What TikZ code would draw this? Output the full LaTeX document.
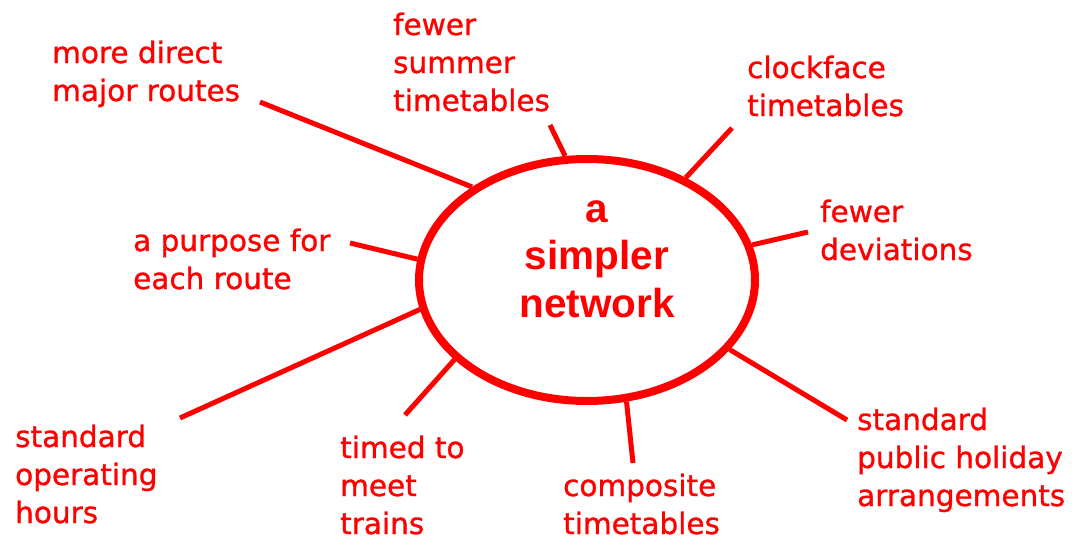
\documentclass[tikz,border=0pt]{standalone}
\usepackage{fontspec}
\setmainfont{DejaVu Sans}
\newfontfamily\lblfont[FakeBold=1]{DejaVu Sans}
\newfontfamily\hubfont{Liberation Sans}
\usetikzlibrary{shapes.geometric}
\definecolor{mapred}{RGB}{255,0,0}
\tikzset{
  lbl/.style={anchor=base west, align=left, inner sep=0pt, text=mapred,
    font=\lblfont\fontsize{29.5}{38}\selectfont},
  hub/.style={ellipse, draw=mapred, line width=8pt, minimum width=336pt,
    minimum height=242pt, inner sep=0pt},
  hubtext/.style={anchor=base, inner sep=0pt, text=mapred, align=center,
    font=\hubfont\bfseries\fontsize{40.5}{47.5}\selectfont},
  spoke/.style={draw=mapred, line width=5pt}
}
\begin{document}
\begin{tikzpicture}[x=1pt,y=-1pt]
\useasboundingbox (0,0) rectangle (1072,541);
\node[hub] (c) at (587,280) {};
\node[hubtext] (ct) at (597,317) {a\\simpler\\network};
\node[lbl] (l1) at (52,101) {more direct\\major routes};
\node[lbl] (l2) at (393,111) {fewer\\summer\\timetables};
\node[lbl] (l3) at (747,116) {clockface\\timetables};
\node[lbl] (l4) at (820,260) {fewer\\deviations};
\node[lbl] (l5) at (133,289) {a purpose for\\each route};
\node[lbl] (l6) at (15,523) {standard\\operating\\hours};
\node[lbl] (l7) at (340,534) {timed to\\meet\\trains};
\node[lbl] (l8) at (563,534) {composite\\timetables};
\node[lbl] (l9) at (857,506) {standard\\public holiday\\arrangements};
\coordinate (e1) at (260,102);
\coordinate (e2) at (550,125);
\coordinate (e3) at (732,128);
\coordinate (e4) at (808,232);
\coordinate (e5) at (350,243);
\coordinate (e6) at (180,418);
\coordinate (e7) at (405,415);
\coordinate (e8) at (633,463);
\coordinate (e9) at (847,420);
\draw[spoke] (e1) -- (c.141.3);
\draw[spoke] (e2) -- (c.100);
\draw[spoke] (e3) -- (c.46.4);
\draw[spoke] (e4) -- (c.12.2);
\draw[spoke] (e5) -- (c.173.4);
\draw[spoke] (e6) -- (c.190.2);
\draw[spoke] (e7) -- (c.211.5);
\draw[spoke] (e8) -- (c.288.2);
\draw[spoke] (e9) -- (c.334.4);
\end{tikzpicture}
\end{document}
